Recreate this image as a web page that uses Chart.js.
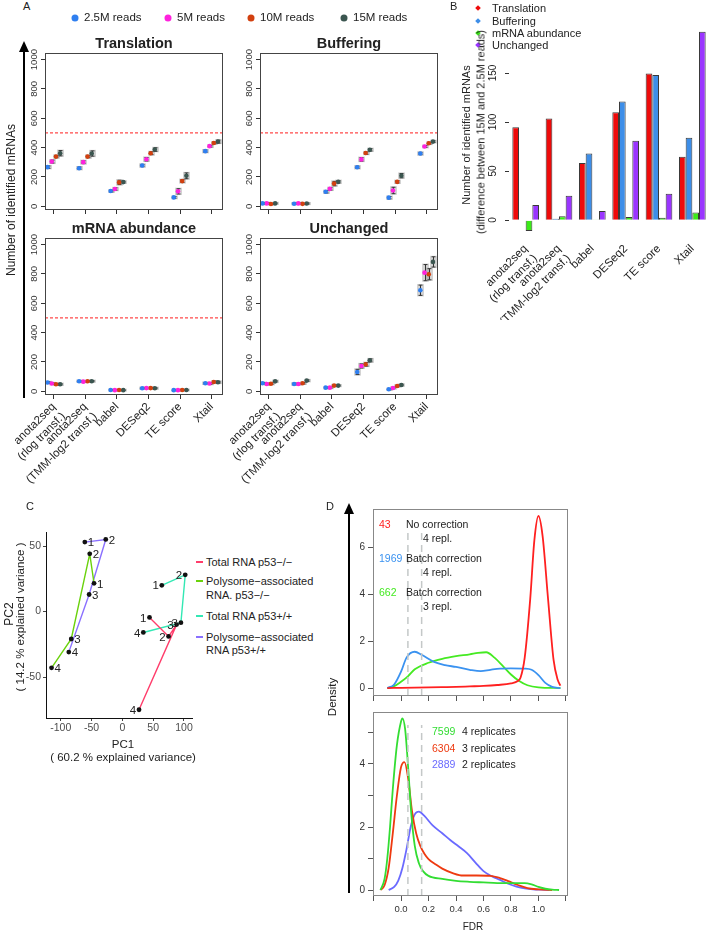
<!DOCTYPE html>
<html>
<head>
<meta charset="utf-8">
<script src="https://cdn.jsdelivr.net/npm/chart.js@4.4.1/dist/chart.umd.min.js"></script>
<style>
body { margin: 0; background: #fff; }
#fig { position: relative; width: 709px; height: 933px; overflow: hidden; font-family: "Liberation Sans", Arial, sans-serif; color: #222; }
.c { position: absolute; }
.t { position: absolute; white-space: nowrap; line-height: 1; }
.line { position: absolute; background: #000; }
.head { position: absolute; width: 0; height: 0; border-left: 5px solid transparent; border-right: 5px solid transparent; border-bottom: 11px solid #000; }
.dot { position: absolute; width: 7px; height: 7px; border-radius: 50%; transform: translate(-50%, -50%); }
.dia { position: absolute; width: 4px; height: 4px; transform: translate(-50%, -50%) rotate(45deg); }
.dash { position: absolute; height: 1.5px; width: 7px; }
</style>
</head>
<body>
<div id="fig"></div>
<script>
"use strict";

// ---- data ----
const depthLabels = ['2.5M reads', '5M reads', '10M reads', '15M reads'];
const methodLabels = [['anota2seq', '(rlog transf.)'], ['anota2seq', '(TMM-log2 transf.)'], 'babel', 'DESeq2', 'TE score', 'Xtail'];
const aTicks = [0, 200, 400, 600, 800, 1000];
const targetCount = 500;

// rows: 2.5M, 5M, 10M, 15M ; cols: methods
const translation = [[267, 260, 104, 278, 61, 376], [305, 301, 118, 321, 102, 410], [339, 339, 163, 362, 172, 432], [362, 360, 165, 387, 208, 441]];
const translationErr = [[8, 8, 6, 8, 6, 8], [10, 10, 8, 12, 18, 6], [8, 8, 15, 10, 10, 6], [18, 18, 6, 12, 20, 10]];
const buffering = [[20, 18, 99, 266, 59, 360], [20, 20, 119, 320, 108, 408], [16, 17, 155, 363, 167, 430], [20, 19, 167, 385, 209, 441]];
const bufferingErr = [[5, 4, 8, 8, 8, 8], [5, 5, 8, 12, 22, 6], [4, 4, 15, 8, 8, 6], [4, 4, 8, 8, 15, 6]];
const abundance = [[60, 69, 9, 21, 8, 55], [53, 66, 8, 22, 8, 53], [48, 69, 9, 22, 9, 64], [48, 69, 8, 21, 9, 62]];
const abundanceErr = [[5, 4, 3, 4, 3, 5], [5, 4, 3, 4, 3, 5], [5, 4, 3, 4, 3, 6], [5, 4, 3, 4, 3, 6]];
const unchanged = [[55, 50, 25, 132, 14, 689], [50, 50, 25, 173, 23, 809], [52, 55, 39, 184, 36, 798], [68, 73, 39, 211, 43, 882]];
const unchangedErr = [[5, 5, 4, 18, 4, 35], [5, 5, 4, 14, 5, 55], [5, 5, 5, 12, 5, 38], [5, 5, 4, 10, 5, 35]];

// panel B: difference between 15M and 2.5M reads
const diffLabels = ['Translation', 'Buffering', 'mRNA abundance', 'Unchanged'];
const diffTranslation = [94.7, 103.8, 58.4, 110, 149.6, 64.8];
const diffBuffering = [0.4, 1.4, 67.9, 121, 148, 84];
const diffAbundance = [-10.9, 4, 0.2, 3.4, 2.4, 7.8];
const diffUnchanged = [15.6, 25, 9.5, 81, 27, 192];
const bTicks = [0, 50, 100, 150];

// panel C: PCA
const pcaGroups = ['Total RNA p53\u2212/\u2212', ['Polysome\u2212associated', 'RNA. p53\u2212/\u2212'], 'Total RNA p53+/+', ['Polysome\u2212associated', 'RNA p53+/+']];
const replicateNames = ['1', '2', '3', '4'];
const totalKO_pc1 = [44, 75, 88, 27];
const totalKO_pc2 = [-4.5, -19, -10, -75];
const polyKO_pc1 = [-46, -53, -83, -115];
const polyKO_pc2 = [21.5, 44, -21, -43];
const totalWT_pc1 = [64, 102, 95, 34];
const totalWT_pc2 = [20, 28, -8.5, -16];
const polyWT_pc1 = [-61, -27, -54, -87];
const polyWT_pc2 = [53, 55, 13, -31];
const pc1Ticks = [-100, -50, 0, 50, 100];
const pc2Ticks = [-50, 0, 50];

// panel D: FDR densities
const fdrCuts = [0.05, 0.15];
const fdrTicks = [-0.2, 0, 0.2, 0.4, 0.6, 0.8, 1.0, 1.2];
const noCorrX = [-0.1, 0, 0.1, 0.2, 0.3, 0.4, 0.5, 0.6, 0.7, 0.8, 0.85, 0.87, 0.9, 0.94, 0.97, 1.0, 1.03, 1.07, 1.11, 1.14, 1.16];
const noCorrY = [0, 0.01, 0.02, 0.03, 0.04, 0.05, 0.07, 0.09, 0.13, 0.2, 0.3, 0.45, 1.3, 3.8, 6.3, 7.35, 6.5, 3.8, 1.2, 0.35, 0.1];
const batch4X = [-0.1, -0.05, 0, 0.04, 0.1, 0.15, 0.24, 0.32, 0.4, 0.5, 0.58, 0.65, 0.72, 0.8, 0.9, 0.95, 1.0, 1.05, 1.1, 1.16];
const batch4Y = [0, 0.15, 0.7, 1.3, 1.55, 1.42, 1.12, 0.98, 0.9, 0.78, 0.72, 0.78, 0.83, 0.84, 0.83, 0.78, 0.55, 0.22, 0.05, 0];
const batch3X = [-0.1, -0.05, 0, 0.05, 0.1, 0.2, 0.3, 0.4, 0.5, 0.56, 0.62, 0.68, 0.74, 0.8, 0.86, 0.92, 1.0, 1.16];
const batch3Y = [0, 0.08, 0.27, 0.5, 0.8, 1.08, 1.25, 1.36, 1.44, 1.5, 1.53, 1.3, 0.95, 0.58, 0.3, 0.12, 0.03, 0];
const rep4X = [-0.15, -0.12, -0.1, -0.08, -0.06, -0.03, 0.0, 0.01, 0.03, 0.05, 0.075, 0.1, 0.13, 0.16, 0.2, 0.3, 0.4, 0.5, 0.6, 0.7, 0.8, 0.9, 0.95, 1.0, 1.05, 1.1, 1.15];
const rep4Y = [0, 0.35, 1.0, 2.0, 3.2, 4.6, 5.35, 5.45, 5.1, 4.0, 2.4, 1.4, 0.85, 0.6, 0.45, 0.35, 0.29, 0.26, 0.24, 0.22, 0.22, 0.22, 0.18, 0.1, 0.04, 0.01, 0];
const rep3X = [-0.15, -0.12, -0.09, -0.06, -0.03, 0, 0.025, 0.05, 0.08, 0.11, 0.14, 0.17, 0.2, 0.25, 0.3, 0.38, 0.45, 0.55, 0.65, 0.72, 0.78, 0.85, 0.92, 1.0, 1.1];
const rep3Y = [0, 0.15, 0.7, 1.8, 3.0, 3.9, 4.06, 3.6, 2.5, 1.8, 1.4, 1.15, 0.98, 0.82, 0.68, 0.53, 0.46, 0.46, 0.45, 0.38, 0.28, 0.16, 0.06, 0.02, 0];
const rep2X = [-0.09, -0.05, -0.02, 0.01, 0.04, 0.07, 0.1, 0.13, 0.17, 0.23, 0.3, 0.36, 0.42, 0.48, 0.54, 0.6, 0.66, 0.72, 0.78, 0.84, 0.9, 0.96, 1.02, 1.08];
const rep2Y = [0, 0.1, 0.3, 0.7, 1.3, 2.0, 2.4, 2.49, 2.35, 2.05, 1.8, 1.58, 1.38, 1.17, 0.88, 0.6, 0.44, 0.32, 0.2, 0.11, 0.05, 0.02, 0.01, 0];

// ---- styles ----
const depthColors = ['#2f7ff0', '#ff22dd', '#d2400f', '#3b5650'];
const depthOffsets = [-0.2, -0.067, 0.067, 0.2];
const diffColors = ['#ee0a0a', '#3d8ee8', '#3cea18', '#9a35ff'];
const pcaColors = ['#ff3d6b', '#6ad20c', '#33e8b4', '#8a70ff'];

Chart.defaults.font.family = '"Liberation Sans", Arial, sans-serif';
Chart.defaults.color = '#333';
Chart.defaults.animation = false;

const fig = document.getElementById('fig');

// ---- plugins ----
const boxPlugin = {
  id: 'box',
  afterDraw(chart, args, opts) {
    if (!opts.color) return;
    const a = chart.chartArea, ctx = chart.ctx;
    ctx.save();
    ctx.strokeStyle = opts.color;
    ctx.lineWidth = 1;
    ctx.strokeRect(Math.round(a.left) + 0.5, Math.round(a.top) + 0.5, Math.round(a.right - a.left) - 1, Math.round(a.bottom - a.top) - 1);
    ctx.restore();
  }
};

// y tick labels written upright (reading bottom to top), as R does
const vertTicks = {
  id: 'vertTicks',
  afterDraw(chart, args, opts) {
    if (!opts.show) return;
    const s = chart.scales.y, ctx = chart.ctx;
    ctx.save();
    ctx.fillStyle = opts.color || '#333';
    ctx.font = opts.font;
    ctx.textAlign = 'center';
    ctx.textBaseline = 'bottom';
    s.ticks.forEach(t => {
      ctx.save();
      ctx.translate(chart.chartArea.left - opts.gap, s.getPixelForValue(t.value));
      ctx.rotate(-Math.PI / 2);
      ctx.fillText(String(t.value), 0, 0);
      ctx.restore();
    });
    ctx.restore();
  }
};

const errBars = {
  id: 'errBars',
  beforeDatasetsDraw(chart) {
    const ctx = chart.ctx, xs = chart.scales.x, ys = chart.scales.y;
    ctx.save();
    chart.data.datasets.forEach(ds => {
      if (!ds.errors) return;
      ds.data.forEach((p, i) => {
        const e = ds.errors[i];
        const x = Math.round(xs.getPixelForValue(p.x)) + 0.5;
        const lo = ys.getPixelForValue(p.y - e), hi = ys.getPixelForValue(p.y + e);
        ctx.fillStyle = 'rgba(130,130,130,0.35)';
        ctx.fillRect(x - 3.5, hi - 1, 7, lo - hi + 2);
        ctx.strokeStyle = '#333';
        ctx.lineWidth = 1;
        ctx.beginPath();
        ctx.moveTo(x, lo); ctx.lineTo(x, hi);
        ctx.moveTo(x - 2, lo); ctx.lineTo(x + 2, lo);
        ctx.moveTo(x - 2, hi); ctx.lineTo(x + 2, hi);
        ctx.stroke();
      });
    });
    ctx.restore();
  }
};

const pointLabels = {
  id: 'pointLabels',
  afterDatasetsDraw(chart, args, opts) {
    if (!opts.show) return;
    const ctx = chart.ctx;
    ctx.save();
    ctx.font = opts.font;
    ctx.fillStyle = '#222';
    ctx.textBaseline = 'middle';
    chart.data.datasets.forEach((ds, di) => {
      if (!ds.pointNames) return;
      chart.getDatasetMeta(di).data.forEach((el, i) => {
        ctx.textAlign = ds.labelSide < 0 ? 'right' : 'left';
        ctx.fillText(ds.pointNames[i], el.x + ds.labelSide * 3, el.y + 1);
      });
    });
    ctx.restore();
  }
};

Chart.register(boxPlugin, vertTicks, errBars, pointLabels);

// ---- helpers ----
function canvasAt(cv) {
  const c = document.createElement('canvas');
  c.className = 'c';
  c.width = cv[2]; c.height = cv[3];
  c.style.left = cv[0] + 'px'; c.style.top = cv[1] + 'px';
  c.style.width = cv[2] + 'px'; c.style.height = cv[3] + 'px';
  fig.appendChild(c);
  return c.getContext('2d');
}

function padFor(box, cv, yw, xh) {
  return {
    left: box[0] - cv[0] - yw,
    top: box[1] - cv[1],
    right: cv[0] + cv[2] - box[0] - box[2],
    bottom: cv[1] + cv[3] - box[1] - box[3] - xh
  };
}

function txt(str, x, y, size, opt) {
  opt = opt || {};
  const d = document.createElement('div');
  d.className = 't';
  d.textContent = str;
  d.style.left = x + 'px';
  d.style.top = y + 'px';
  d.style.fontSize = size + 'px';
  if (opt.bold) d.style.fontWeight = 'bold';
  if (opt.color) d.style.color = opt.color;
  const ax = opt.rotate || opt.align === 'center' ? '-50%' : opt.align === 'right' ? '-100%' : '0';
  d.style.transform = 'translate(' + ax + ',-50%)' + (opt.rotate ? ' rotate(-90deg)' : '');
  fig.appendChild(d);
}

function shape(cls, x, y, w, h, color) {
  const d = document.createElement('div');
  d.className = cls;
  d.style.left = x + 'px'; d.style.top = y + 'px';
  if (w != null) d.style.width = w + 'px';
  if (h != null) d.style.height = h + 'px';
  if (color) d.style.background = color;
  fig.appendChild(d);
  return d;
}

function fixed(w, h) {
  return s => {
    if (w != null) s.width = w;
    if (h != null) s.height = h;
    s.paddingLeft = 0; s.paddingRight = 0; s.paddingTop = 0; s.paddingBottom = 0;
  };
}

function setTicks(list) {
  return s => { s.ticks = list.map(v => ({ value: v })); };
}

// ---- panel A ----
function panelA(cv, box, series, errs, withLabels, withTarget) {
  const ctx = canvasAt(cv);
  const datasets = depthLabels.map((d, k) => ({
    label: d,
    data: series[k].map((v, i) => ({ x: i + 1 + depthOffsets[k], y: v })),
    errors: errs[k],
    backgroundColor: depthColors[k],
    borderColor: depthColors[k],
    pointRadius: 2.3,
    pointBorderWidth: 0
  }));
  if (withTarget) {
    datasets.unshift({
      data: [{ x: 0.72, y: targetCount }, { x: 6.36, y: targetCount }],
      showLine: true, pointRadius: 0, borderColor: '#ff4a4a', borderWidth: 1.2, borderDash: [3, 2]
    });
  }
  const xh = withLabels ? 90 : 10;
  return new Chart(ctx, {
    type: 'scatter',
    data: { datasets },
    options: {
      responsive: false,
      layout: { padding: padFor(box, cv, 20, xh) },
      plugins: {
        legend: { display: false }, tooltip: { enabled: false },
        box: { color: '#444' },
        vertTicks: { show: true, font: '9.5px "Liberation Sans", Arial', gap: 6, color: '#333' }
      },
      scales: {
        x: {
          type: 'linear', min: 0.72, max: 6.36,
          afterBuildTicks: setTicks([1, 2, 3, 4, 5, 6]),
          afterFit: fixed(null, xh),
          grid: { drawOnChartArea: false, drawTicks: true, tickLength: 4, color: '#333' },
          border: { display: false },
          ticks: {
            display: withLabels, autoSkip: false, minRotation: 45, maxRotation: 45, padding: 1,
            font: { size: 11.5 }, color: '#222',
            callback: v => methodLabels[Math.round(v) - 1]
          }
        },
        y: {
          min: -25, max: 1045,
          afterBuildTicks: setTicks(aTicks),
          afterFit: fixed(20, null),
          grid: { drawOnChartArea: false, drawTicks: true, tickLength: 4, color: '#333' },
          border: { display: false },
          ticks: { display: false }
        }
      }
    }
  });
}

panelA([0, 48, 232, 175], [45, 53, 178, 157], translation, translationErr, false, true);
panelA([226, 48, 240, 175], [260, 53, 178, 157], buffering, bufferingErr, false, true);
panelA([0, 233, 232, 265], [45, 238, 178, 157], abundance, abundanceErr, true, true);
panelA([220, 233, 246, 265], [260, 238, 178, 157], unchanged, unchangedErr, true, false);

txt('A', 23, 6, 11);
txt('Translation', 134, 43, 14.5, { bold: true, align: 'center' });
txt('Buffering', 349, 43, 14.5, { bold: true, align: 'center' });
txt('mRNA abundance', 134, 228, 14.5, { bold: true, align: 'center' });
txt('Unchanged', 349, 228, 14.5, { bold: true, align: 'center' });
const legendX = [75, 168, 251, 344];
depthLabels.forEach((d, k) => {
  shape('dot', legendX[k], 18, null, null, depthColors[k]);
  txt(d, legendX[k] + 9, 18, 11.5);
});
shape('line', 23, 50, 2, 348);
shape('head', 19, 41);
txt('Number of identified mRNAs', 11, 200, 12, { rotate: true });

// ---- panel B ----
(function () {
  const cv = [466, 0, 243, 322], box = [509, 24, 200, 208];
  const ctx = canvasAt(cv);
  const series = [diffTranslation, diffBuffering, diffAbundance, diffUnchanged];
  const chart = new Chart(ctx, {
    type: 'bar',
    data: {
      labels: methodLabels,
      datasets: series.map((s, k) => ({
        label: diffLabels[k], data: s,
        backgroundColor: diffColors[k], borderColor: '#3a3a3a', borderWidth: 1,
        categoryPercentage: 0.8, barPercentage: 1.0
      }))
    },
    options: {
      responsive: false,
      layout: { padding: padFor(box, cv, 43, 88) },
      plugins: { legend: { display: false }, tooltip: { enabled: false } },
      scales: {
        x: {
          afterFit: fixed(null, 88),
          grid: { display: false },
          border: { display: false },
          ticks: { autoSkip: false, minRotation: 45, maxRotation: 45, padding: 2, font: { size: 11.5 }, color: '#222' }
        },
        y: {
          min: -12, max: 200,
          afterBuildTicks: setTicks(bTicks),
          afterFit: fixed(43, null),
          grid: { drawOnChartArea: false, drawTicks: true, tickLength: 4, color: '#333' },
          border: { display: false },
          ticks: { display: false }
        }
      }
    }
  });
  // upright y tick labels, placed from the chart's own y scale
  const ys = chart.scales.y;
  bTicks.forEach(v => txt(String(v), 493, cv[1] + ys.getPixelForValue(v), 10, { rotate: true }));

  txt('B', 450, 6, 11);
  const ly = [8, 21, 33, 45];
  diffLabels.forEach((d, k) => {
    shape('dia', 478, ly[k], null, null, diffColors[k]);
    txt(d, 492, ly[k], 11);
  });
  txt('Number of identified mRNAs', 466, 135, 11, { rotate: true });
  txt('(difference between 15M and 2.5M reads)', 481, 132, 11, { rotate: true });
})();

// ---- panel C ----
(function () {
  const cv = [0, 520, 196, 220], box = [46, 532, 147, 186];
  const ctx = canvasAt(cv);
  const xs = [totalKO_pc1, polyKO_pc1, totalWT_pc1, polyWT_pc1];
  const ys = [totalKO_pc2, polyKO_pc2, totalWT_pc2, polyWT_pc2];
  new Chart(ctx, {
    type: 'scatter',
    data: {
      datasets: xs.map((xv, k) => ({
        label: String(pcaGroups[k]),
        data: xv.map((x, i) => ({ x, y: ys[k][i] })),
        showLine: true, borderColor: pcaColors[k], borderWidth: 1.4,
        pointRadius: 2.4, pointBackgroundColor: '#111', pointBorderWidth: 0,
        pointNames: replicateNames, labelSide: k === 0 || k === 2 ? -1 : 1
      }))
    },
    options: {
      responsive: false,
      layout: { padding: padFor(box, cv, 46, 17) },
      plugins: {
        legend: { display: false }, tooltip: { enabled: false },
        pointLabels: { show: true, font: '11.5px "Liberation Sans", Arial' }
      },
      scales: {
        x: {
          type: 'linear', min: -124, max: 113,
          afterBuildTicks: setTicks(pc1Ticks),
          afterFit: fixed(null, 17),
          grid: { drawOnChartArea: false, drawTicks: true, tickLength: 3, color: '#444' },
          border: { display: true, color: '#111', width: 1 },
          ticks: { padding: 1, font: { size: 10.5 }, color: '#4d4d4d' }
        },
        y: {
          min: -81.3, max: 60.7,
          afterBuildTicks: setTicks(pc2Ticks),
          afterFit: fixed(46, null),
          grid: { drawOnChartArea: false, drawTicks: true, tickLength: 3, color: '#444' },
          border: { display: true, color: '#111', width: 1 },
          ticks: { padding: 2, font: { size: 10.5 }, color: '#4d4d4d' }
        }
      }
    }
  });
  txt('C', 26, 506, 11);
  txt('PC2', 9, 614, 12, { rotate: true });
  txt('( 14.2 % explained variance )', 21, 617, 11.5, { rotate: true });
  txt('PC1', 123, 745, 11.5, { align: 'center' });
  txt('( 60.2 % explained variance)', 123, 758, 11.5, { align: 'center' });
  const ly = [[562], [581, 595], [616], [637, 650]];
  pcaGroups.forEach((g, k) => {
    shape('dash', 196, ly[k][0] - 1, 7, 1.5, pcaColors[k]);
    const lines = Array.isArray(g) ? g : [g];
    lines.forEach((l, j) => txt(l, 206, ly[k][j], 11));
  });
})();

// ---- panel D ----
function densityChart(cv, box, curves, colors, yMin, yMax, yTickList, withLabels, cutTop) {
  const ctx = canvasAt(cv);
  const xh = withLabels ? 22 : 10;
  const datasets = fdrCuts.map(c => ({
    data: [{ x: c, y: yMin }, { x: c, y: cutTop }],
    showLine: true, pointRadius: 0, borderColor: '#c4c8c8', borderWidth: 1.5, borderDash: [7, 5]
  }));
  curves.forEach((cu, k) => {
    datasets.push({
      data: cu[0].map((x, i) => ({ x, y: cu[1][i] })),
      showLine: true, pointRadius: 0, borderColor: colors[k], borderWidth: 1.8,
      cubicInterpolationMode: 'monotone'
    });
  });
  return new Chart(ctx, {
    type: 'scatter',
    data: { datasets },
    options: {
      responsive: false,
      layout: { padding: padFor(box, cv, 21, xh) },
      plugins: { legend: { display: false }, tooltip: { enabled: false }, box: { color: '#888' } },
      scales: {
        x: {
          type: 'linear', min: -0.204, max: 1.215,
          afterBuildTicks: setTicks(fdrTicks),
          afterFit: fixed(null, xh),
          grid: { drawOnChartArea: false, drawTicks: true, tickLength: 5, color: '#555' },
          border: { display: false },
          ticks: {
            display: withLabels, padding: 3, font: { size: 9.5 }, color: '#333',
            callback: v => (v > -0.01 && v < 1.01 ? v.toFixed(1) : '')
          }
        },
        y: {
          min: yMin, max: yMax,
          afterBuildTicks: setTicks(yTickList),
          afterFit: fixed(21, null),
          grid: { drawOnChartArea: false, drawTicks: true, tickLength: 5, color: '#555' },
          border: { display: false },
          ticks: { padding: 3, font: { size: 10 }, color: '#333', callback: v => (v % 2 === 0 ? v : '') }
        }
      }
    }
  });
}

densityChart([352, 500, 230, 210], [373, 509, 195, 187],
  [[noCorrX, noCorrY], [batch4X, batch4Y], [batch3X, batch3Y]],
  ['#ff2020', '#3a92f0', '#45ea22'], -0.34, 7.65, [0, 2, 4, 6], false, 6.67);
densityChart([352, 705, 230, 228], [373, 712, 195, 184],
  [[rep4X, rep4Y], [rep3X, rep3Y], [rep2X, rep2Y]],
  ['#33dd33', '#ee3a10', '#6a6aff'], -0.19, 5.65, [0, 1, 2, 3, 4, 5], true, 5.24);

txt('D', 326, 506, 11);
shape('line', 348, 512, 2, 381);
shape('head', 344, 503);
txt('Density', 333, 697, 11.5, { rotate: true });
txt('FDR', 473, 927, 10, { align: 'center' });

txt('43', 379, 524, 10.5, { color: '#ff2020' });
txt('No correction', 406, 524, 10.5);
txt('4 repl.', 423, 538, 10.5);
txt('1969', 379, 558, 10.5, { color: '#3a92f0' });
txt('Batch correction', 406, 558, 10.5);
txt('4 repl.', 423, 572, 10.5);
txt('662', 379, 592, 10.5, { color: '#45ea22' });
txt('Batch correction', 406, 592, 10.5);
txt('3 repl.', 423, 606, 10.5);

txt('7599', 432, 731, 10.5, { color: '#33dd33' });
txt('4 replicates', 462, 731, 10.5);
txt('6304', 432, 748, 10.5, { color: '#ee3a10' });
txt('3 replicates', 462, 748, 10.5);
txt('2889', 432, 764, 10.5, { color: '#6a6aff' });
txt('2 replicates', 462, 764, 10.5);
</script>
</body>
</html>
